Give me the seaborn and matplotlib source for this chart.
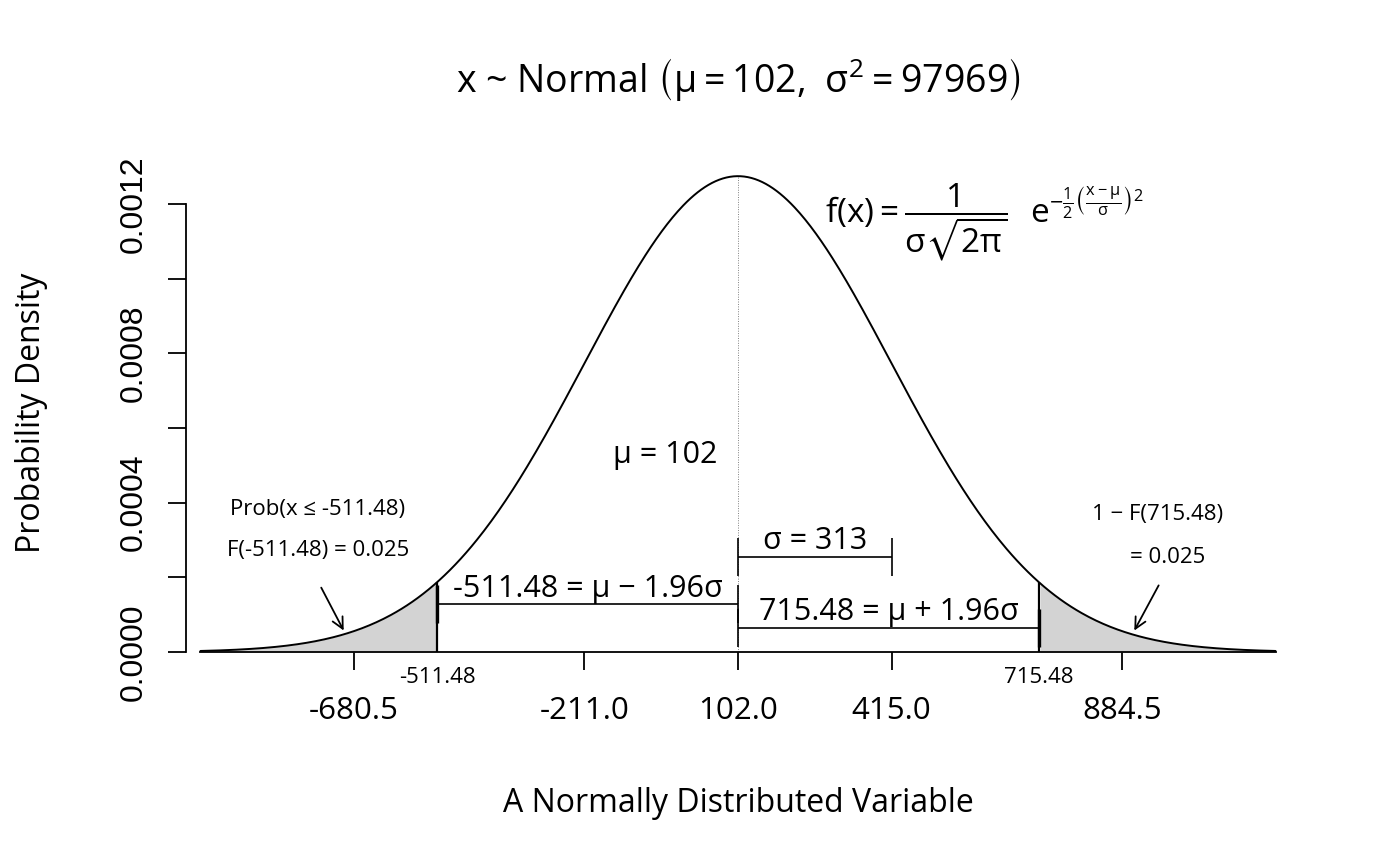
import matplotlib
matplotlib.use("Agg")
import matplotlib.pyplot as plt
from matplotlib import font_manager
import seaborn as sns
import numpy as np
import pandas as pd

# distribution parameters
mu = 102
sigma = 313
z = 1.96
lower = mu - z * sigma   # -511.48
upper = mu + z * sigma   # 715.48

major_ticks = [-680.5, -211.0, 102.0, 415.0, 884.5]
major_labels = ["-680.5", "-211.0", "102.0", "415.0", "884.5"]
y_ticks = [0.0, 0.0002, 0.0004, 0.0006, 0.0008, 0.0010, 0.0012]
y_labels = ["0.0000", "", "0.0004", "", "0.0008", "", "0.0012"]

sns.set_style("white")
plt.rcParams["font.family"] = ["Open Sans", "DejaVu Sans"]
plt.rcParams["text.color"] = "black"
plt.rcParams["xtick.color"] = "black"
plt.rcParams["ytick.color"] = "black"
plt.rcParams["mathtext.fontset"] = "custom"
plt.rcParams["mathtext.rm"] = "Open Sans"
plt.rcParams["mathtext.it"] = "Open Sans"
plt.rcParams["mathtext.bf"] = "Open Sans"
plt.rcParams["mathtext.sf"] = "Open Sans"
plt.rcParams["mathtext.fallback"] = "stixsans"

# narrow sans for the y tick labels if it is there
names = {f.name for f in font_manager.fontManager.ttflist}
if "Liberation Sans Narrow" in names:
    yfont, ysize = "Liberation Sans Narrow", 28
else:
    yfont, ysize = "Liberation Sans", 23

x = np.linspace(mu - 3.5 * sigma, mu + 3.5 * sigma, 600)
dens = np.exp(-0.5 * ((x - mu) / sigma) ** 2) / (sigma * np.sqrt(2 * np.pi))
df = pd.DataFrame({"x": x, "density": dens})
peak = dens.max()

def pdf(v):
    return np.exp(-0.5 * ((v - mu) / sigma) ** 2) / (sigma * np.sqrt(2 * np.pi))

fig = plt.figure(figsize=(14, 8.66), dpi=100)
ax = fig.add_axes([186 / 1400, (866 - 671) / 866, (1290 - 186) / 1400, (671 - 157) / 866])

# shaded tails
lt = df[df.x <= lower]
rt = df[df.x >= upper]
ax.fill_between(lt.x, 0, lt.density, color="#d3d3d3", lw=0)
ax.fill_between(rt.x, 0, rt.density, color="#d3d3d3", lw=0)
ax.vlines([lower, upper], 0, [pdf(lower), pdf(upper)], color="black", lw=1.6)

sns.lineplot(data=df, x="x", y="density", color="black", lw=1.4, ax=ax)
ax.vlines(mu, 0, peak, color="gray", lw=0.7, linestyles=(0, (1, 1.5)))

# brackets
def bracket(x0, x1, y, lw0=1.2, lw1=1.2):
    h = 0.04 * peak
    ax.hlines(y, x0, x1, color="black", lw=1.2)
    ax.vlines(x0, y - h, y + h, color="black", lw=lw0)
    ax.vlines(x1, y - h, y + h, color="black", lw=lw1)

bracket(mu, mu + sigma, 0.2 * peak)
bracket(lower, mu, 0.1 * peak, lw0=2.4)
bracket(mu, upper, 0.05 * peak, lw1=2.4)

ax.text(mu + sigma / 2, 0.2 * peak + 0.000002, "σ = 313", ha="center", va="bottom", fontsize=22)
ax.text((lower + mu) / 2, 0.1 * peak + 0.000002, "-511.48 = μ − 1.96σ", ha="center", va="bottom", fontsize=22)
ax.text((upper + mu) / 2, 0.05 * peak + 0.000002, "715.48 = μ + 1.96σ", ha="center", va="bottom", fontsize=22)

ax.text(-47, 0.000528, "μ = 102", ha="center", va="center", fontsize=22)

ax.text(-754, 0.000383, "Prob(x ≤ -511.48)", ha="center", va="center", fontsize=16)
ax.text(-754, 0.000271, "F(-511.48) = 0.025", ha="center", va="center", fontsize=16)
ax.text(958, 0.000367, "1 − F(715.48)", ha="center", va="center", fontsize=16)
ax.text(978, 0.000252, "= 0.025", ha="center", va="center", fontsize=16)

arrow = dict(arrowstyle="->,head_length=0.8,head_width=0.4", color="black", lw=1.3)
ax.annotate("", xy=(-699, 0.0000509), xytext=(-750, 0.000179), arrowprops=arrow)
ax.annotate("", xy=(907, 0.0000509), xytext=(962, 0.000185), arrowprops=arrow)

ax.text(605, 0.00115,
        r"$\mathrm{f(x)} = \dfrac{1}{\sigma\sqrt{2\pi}}\ \ \mathrm{e}^{-\frac{1}{2}\left(\frac{x-\mu}{\sigma}\right)^2}$",
        ha="center", va="center", fontsize=24)

ax.text(lower, -0.000067, "-511.48", ha="center", va="center", fontsize=16)
ax.text(upper, -0.000067, "715.48", ha="center", va="center", fontsize=16)

# axes
ax.set_xlim(mu - 1125, mu + 1125)
ax.set_ylim(-0.0000509, 0.0013259)
for s in ["top", "right"]:
    ax.spines[s].set_visible(False)
ax.spines["bottom"].set_position(("data", 0))
ax.spines["bottom"].set_bounds(mu - 3.5 * sigma, mu + 3.5 * sigma)
ax.spines["left"].set_bounds(0, 0.0012)
for s in ["bottom", "left"]:
    ax.spines[s].set_color("black")
    ax.spines[s].set_linewidth(1.3)

ax.set_xticks(major_ticks)
ax.set_xticklabels(major_labels, fontsize=22.5)
ax.set_yticks(y_ticks)
ax.set_yticklabels(y_labels, fontsize=ysize, rotation=90, va="center", family=yfont)
ax.tick_params(axis="both", direction="out", length=13, width=1.3, color="black",
               bottom=True, left=True)
ax.tick_params(axis="x", pad=19)
ax.tick_params(axis="y", pad=14)
ax.set_xlabel("")
ax.set_ylabel("")

fig.text(738 / 1400, 1 - 803 / 866, "A Normally Distributed Variable", ha="center", va="center", fontsize=23)
fig.text(32 / 1400, 1 - 413 / 866, "Probability Density", ha="center", va="center", fontsize=23, rotation=90)
fig.text(738 / 1400, 1 - 80 / 866, r"x ~ Normal $\left(\mu = 102,\ \sigma^2 = 97969\right)$",
         ha="center", va="center", fontsize=27)

fig.savefig("out.png", dpi=100)
